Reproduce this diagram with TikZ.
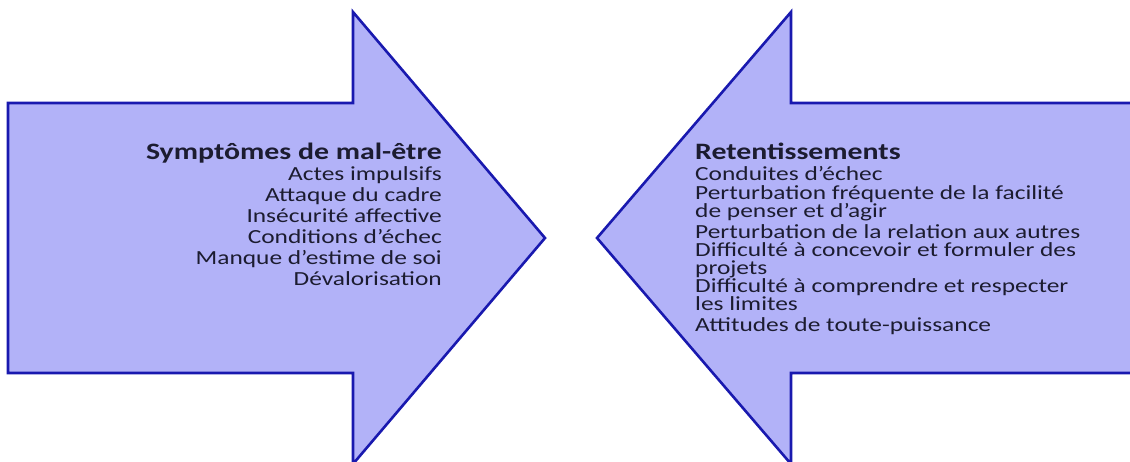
\documentclass[tikz,border=0pt]{standalone}
\usepackage{fontspec}
\setmainfont{Carlito}[FakeStretch=1.27]
\definecolor{arrowfill}{RGB}{178,178,248}
\definecolor{arrowline}{RGB}{25,25,175}
\definecolor{ink}{RGB}{28,28,48}
\newcommand{\headfont}{\bfseries\fontsize{23.5}{21}\selectfont}
\newcommand{\leftfont}{\fontsize{20}{21}\selectfont\lineskiplimit=-30pt\relax}
\newcommand{\rightfont}{\fontsize{20}{18}\selectfont\lineskiplimit=-30pt\relax}
\begin{document}
\begin{tikzpicture}[x=1pt,y=-1pt,
  bigarrow/.style={fill=arrowfill,draw=arrowline,line width=2.6pt,line join=miter},
  blocktext/.style={inner sep=0pt,text=ink}]
\useasboundingbox (0,0) rectangle (1130,461);
\clip (0,0) rectangle (1130,461);
% arrow pointing right
\draw[bigarrow] (8,103) -- (353,103) -- (353,12) -- (545,238) -- (353,464)
  -- (353,373) -- (8,373) -- cycle;
% arrow pointing left
\draw[bigarrow] (1140,103) -- (791,103) -- (791,12) -- (597,238) -- (791,464)
  -- (791,373) -- (1140,373) -- cycle;
% left block, placed by the baseline of its last line
\node[blocktext,align=right,anchor=base east,font=\leftfont] (symptomes) at (442,285)
  {{\headfont Symptômes de mal-être}\\
   Actes impulsifs\\
   Attaque du cadre\\
   Insécurité affective\\
   Conditions d’échec\\
   Manque d’estime de soi\\
   Dévalorisation};
% right block, placed by the baseline of its last line
\node[blocktext,align=left,anchor=base west,font=\rightfont] (retentissements) at (695,331)
  {{\headfont Retentissements}\\[3pt]
   Conduites d’échec\\[1pt]
   Perturbation fréquente de la facilité\\
   de penser et d’agir\\[3pt]
   Perturbation de la relation aux autres\\
   Difficulté à concevoir et formuler des\\
   projets\\
   Difficulté à comprendre et respecter\\
   les limites\\[3pt]
   Attitudes de toute-puissance};
\end{tikzpicture}
\end{document}
